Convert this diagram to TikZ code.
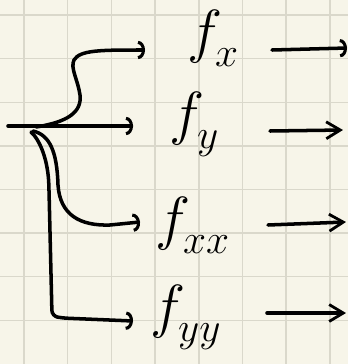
\documentclass[tikz,border=0pt]{standalone}
\usetikzlibrary{arrows.meta}
\definecolor{paper}{RGB}{247,245,233}
\definecolor{gridc}{RGB}{218,216,203}
% f with a low, hand-written style subscript
\newcommand{\dlabel}[1]{\scalebox{1.7}{\Huge$f$\kern-0.12em\lower0.26em\hbox{\fontsize{16}{16}\selectfont$#1$}}}
\begin{document}
\begin{tikzpicture}[x=0.025cm, y=-0.025cm,
  ink/.style={line width=2.5pt, line cap=round, line join=round},
  hook/.style={ink, -{Arc Barb[length=5pt, width=13pt, line width=2.2pt]}},
  barb/.style={ink, -{Straight Barb[length=10pt, width=12pt, line width=2pt]}},
  deriv/.style={inner sep=0pt, anchor=base west}]
% paper and grid
\fill[paper] (0,0) rectangle (348,364);
\useasboundingbox (0,0) rectangle (348,364);
\foreach \k in {0,...,7} {
  \draw[gridc, line width=1pt] (24+43.7*\k,0) -- (24+43.7*\k,364);
  \draw[gridc, line width=1pt] (0,15+43.6*\k) -- (348,15+43.6*\k);
}
% derivatives
\node[deriv] (fx) at (187,51) {\dlabel{x}};
\node[deriv] (fy) at (169,133) {\dlabel{y}};
\node[deriv] (fxx) at (155,238) {\dlabel{xx}};
\node[deriv] (fyy) at (150,326) {\dlabel{yy}};
% branching point
\coordinate (root) at (8,126);
\coordinate (sx) at (36,127);
\coordinate (sxx) at (33,131);
\coordinate (syy) at (31,132);
\draw[hook] (root) -- (133,126);
\draw[hook] (sx) .. controls (68,122) and (82,112) .. (80,95)
  .. controls (78,80) and (70,68) .. (74,60)
  .. controls (80,50) and (100,50) .. (145,50);
\draw[hook] (sxx) .. controls (50,135) and (57,152) .. (58,185)
  .. controls (60,215) and (80,226) .. (110,225)
  -- (140,222);
\draw[hook, rounded corners=4pt] (syy) .. controls (40,140) and (48,160) .. (49,190)
  -- (52,316) -- (62,318) -- (133,321);
% outgoing arrows
\coordinate (ox) at (347,48);
\coordinate (oy) at (343,130);
\coordinate (oxx) at (346,222);
\coordinate (oyy) at (346,313);
\draw[hook] (272,50) -- (ox);
\draw[barb] (270,131) -- (oy);
\draw[barb] (268,225) -- (oxx);
\draw[barb] (267,313) -- (oyy);
\end{tikzpicture}
\end{document}
